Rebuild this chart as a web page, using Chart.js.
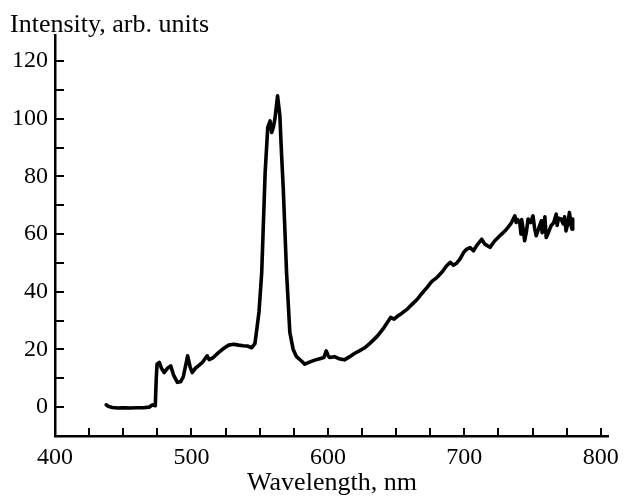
<!DOCTYPE html>
<html>
<head>
<meta charset="utf-8">
<script src="https://cdn.jsdelivr.net/npm/chart.js@4/dist/chart.umd.min.js"></script>
<style>
html,body{margin:0;padding:0;background:#fff;}
#wrap{width:626px;height:496px;}
</style>
</head>
<body>
<div id="wrap"><canvas id="c" width="626" height="496"></canvas></div>
<script>
// ---- data ----
const wavelengths = [
  437.5,439,442,446,450,455,460,465,469,471.5,473.5,474.2,474.8,476.4,478,480,482.5,484.8,487,489.7,
  492,494,496,497.2,499,500.6,503,505.5,508,511.5,513,516,520,524,527.3,531,534.5,538,541,544.2,
  546.5,547.9,549.5,551.5,554,555.9,557.6,558.8,560,561.2,563.1,564.8,566,567.3,569.7,572.1,574.5,577,580.6,583,
  586,590.3,594,597,598.8,600,601.2,604.8,608,612.1,616,619.4,623,626.7,631,636.4,641,646,648.5,650.9,
  654,658.2,662,665.5,669,672.7,676,680,684,687,689.7,692,694.5,697,699.4,701.8,704.2,706.7,709,712.7,
  715,718.8,722,726,728.5,730.9,734,737,738,739,740.6,741.5,742,743,744.2,745.5,746.7,748.5,750.3,751.5,
  752.7,754.5,756.4,757,758,759,760,762,763.6,765.5,767.3,768,769,770.9,772.5,773.5,774.5,776,777,778.2,
  778.9,779.4
];
const intensity = [
  0.8,0.3,-0.1,-0.3,-0.2,-0.3,-0.2,-0.2,0.0,0.8,0.5,10,14.9,15.5,13.5,12,13.5,14.3,11,8.6,
  8.8,10.5,15,17.8,14,12,13.5,14.5,15.5,17.8,16.5,17.2,19,20.5,21.5,21.8,21.5,21.3,21.2,20.6,
  22,27,33,46.7,81.3,96.9,99.2,95.2,97,100,107.9,101,88,75.6,46.7,25.9,20.1,17.5,16.0,14.9,
  15.5,16.3,16.8,17.2,19.5,18,17.2,17.5,16.8,16.4,17.5,18.6,19.5,20.5,22.2,24.7,27.5,31.1,30.5,31.5,
  32.5,34,35.8,37.4,39.5,41.5,43.5,45,47,49,50.2,49.2,50,51.5,53.6,54.8,55.3,54.2,56,58.2,
  56.5,55.4,57.5,59.4,60.5,61.7,63.5,66.3,64,65,64,60,65,62,57.7,61,65.2,64,66.3,62,
  59.4,62,64.6,60.5,62,66,58.8,61,62.9,64,66.9,63,65.5,65.2,63.5,66,61.1,64,67.5,63,
  61.7,65.2
];
const xTickLabels = [400, 500, 600, 700, 800];
const yTickLabels = [0, 20, 40, 60, 80, 100, 120];
const xTickMarks = [425,450,475,500,525,550,575,600,625,650,675,700,725,750,775,800];
const yTickMarks = [0,10,20,30,40,50,60,70,80,90,100,110,120];
const xTitle = 'Wavelength, nm';
const yTitle = 'Intensity, arb. units';

const points = wavelengths.map((w, i) => ({x: w, y: intensity[i]}));
const FONT = '"Liberation Serif", "Times New Roman", serif';

const innerTicks = {
  id: 'innerTicks',
  afterDraw(chart) {
    const {ctx, chartArea, scales} = chart;
    ctx.save();
    ctx.strokeStyle = '#000';
    ctx.lineWidth = 2;
    ctx.beginPath();
    xTickMarks.forEach(v => {
      const px = Math.round(scales.x.getPixelForValue(v));
      ctx.moveTo(px, chartArea.bottom);
      ctx.lineTo(px, chartArea.bottom - 8);
    });
    yTickMarks.forEach(v => {
      const py = Math.round(scales.y.getPixelForValue(v));
      ctx.moveTo(chartArea.left, py);
      ctx.lineTo(chartArea.left + 9, py);
    });
    ctx.stroke();
    ctx.fillStyle = '#000';
    ctx.font = '26px ' + FONT;
    ctx.textAlign = 'left';
    ctx.textBaseline = 'alphabetic';
    ctx.fillText(yTitle, 10, 32);
    ctx.restore();
  }
};

new Chart(document.getElementById('c'), {
  type: 'line',
  data: {
    datasets: [{
      data: points,
      borderColor: '#000',
      borderWidth: 3.6,
      borderJoinStyle: 'round',
      borderCapStyle: 'round',
      pointRadius: 0,
      tension: 0,
      fill: false
    }]
  },
  options: {
    responsive: false,
    animation: false,
    layout: {padding: {left: 0, top: 35, right: 13, bottom: 0}},
    plugins: {legend: {display: false}, tooltip: {enabled: false}},
    scales: {
      x: {
        type: 'linear',
        min: 400, max: 806,
        afterBuildTicks: s => { s.ticks = xTickLabels.map(v => ({value: v})); },
        afterFit: s => { s.height = 60; },
        grid: {display: true, drawOnChartArea: false, drawTicks: false},
        border: {display: true, color: '#000', width: 2.5},
        ticks: {color: '#000', font: {family: FONT, size: 24}, padding: 7, maxRotation: 0, autoSkip: false},
        title: {display: true, text: xTitle, color: '#000', font: {family: FONT, size: 26, lineHeight: 1.0}, padding: {top: 0, bottom: 0}}
      },
      y: {
        type: 'linear',
        min: -10, max: 129,
        afterBuildTicks: s => { s.ticks = yTickLabels.map(v => ({value: v})); },
        afterFit: s => { s.width = 55; },
        grid: {display: true, drawOnChartArea: false, drawTicks: false},
        border: {display: true, color: '#000', width: 2.5},
        ticks: {color: '#000', font: {family: FONT, size: 24}, padding: 7, autoSkip: false}
      }
    }
  },
  plugins: [innerTicks]
});
</script>
</body>
</html>
